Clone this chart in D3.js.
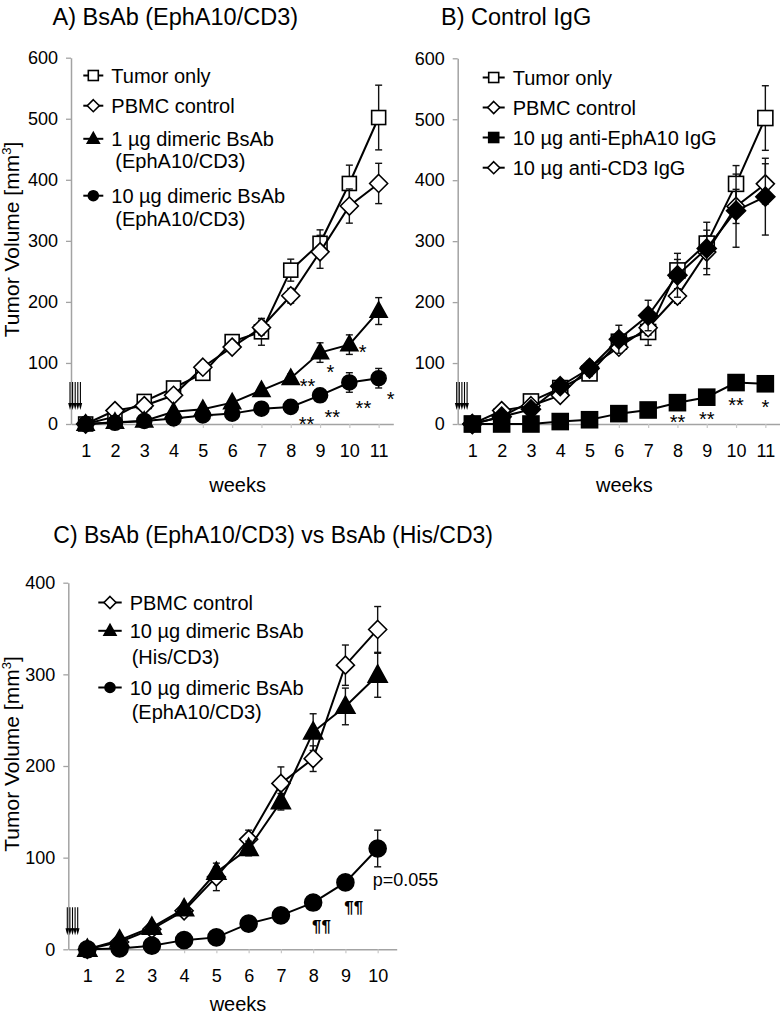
<!DOCTYPE html>
<html><head><meta charset="utf-8">
<script src="https://cdn.jsdelivr.net/npm/d3@7"></script>
<style>
body{margin:0;background:#fff}
svg{display:block}
text{font-family:"Liberation Sans",Arial,Helvetica,sans-serif;fill:#000}
</style>
</head><body>
<svg id="chart" width="780" height="1017"></svg>
<script>
// ---------- data ----------
const weeksAB = [1,2,3,4,5,6,7,8,9,10,11];
const weeksC  = [1,2,3,4,5,6,7,8,9,10];

const tumorOnly     = [0, 12, 37, 59, 83, 135, 151, 252, 296, 394, 502];
const tumorOnlyErr  = [0, 3, 5, 6, 8, 10, 22, 18, 22, 30, 53];
const pbmcAB        = [0, 22, 30, 47, 93, 126, 158, 210, 282, 357, 394];
const pbmcABErr     = [0, 3, 4, 5, 8, 8, 12, 12, 27, 28, 33];
const bsab1Eph      = [0, 3, 5, 20, 24, 35, 55, 75, 117, 130, 185];
const bsab1EphErr   = [0, 1, 2, 3, 4, 5, 6, 7, 16, 16, 22];
const bsab10Eph     = [0, 2, 5, 9, 14, 17, 25, 28, 47, 68, 75];
const bsab10EphErr  = [0, 1, 1, 2, 2, 3, 4, 5, 7, 16, 16];
const antiEphIgG    = [0, 0, 0, 4, 7, 17, 23, 35, 44, 68, 66];
const antiEphIgGErr = [0, 0, 0, 1, 2, 2, 3, 4, 4, 7, 4];
const antiCD3IgG    = [0, 12, 24, 62, 91, 139, 178, 244, 288, 350, 373];
const antiCD3IgGErr = [0, 2, 3, 6, 12, 23, 25, 36, 43, 60, 63];

const pbmcC         = [0, 8, 22, 42, 79, 120, 181, 208, 310, 349];
const pbmcCErr      = [0, 2, 3, 4, 15, 10, 18, 14, 22, 25];
const bsabHisC      = [0, 10, 24, 44, 84, 110, 161, 237, 265, 299];
const bsabHisCErr   = [0, 2, 3, 4, 6, 8, 9, 20, 20, 24];
const bsabEphC      = [0, 1, 4, 10, 13, 28, 37, 51, 73, 110];
const bsabEphCErr   = [0, 1, 1, 2, 2, 3, 4, 4, 6, 20];

const yTicksAB = [0, 100, 200, 300, 400, 500, 600];
const yTicksC  = [0, 100, 200, 300, 400];

const titles = ["A) BsAb (EphA10/CD3)", "B) Control IgG", "C) BsAb (EphA10/CD3) vs BsAb (His/CD3)"];
const yTitle = "Tumor Volume [mm";
const xTitle = "weeks";

const legendA = [["Tumor only"], ["PBMC control"], ["1 µg dimeric BsAb", "(EphA10/CD3)"], ["10 µg dimeric BsAb", "(EphA10/CD3)"]];
const legendB = [["Tumor only"], ["PBMC control"], ["10 µg anti-EphA10 IgG"], ["10 µg anti-CD3 IgG"]];
const legendC = [["PBMC control"], ["10 µg dimeric BsAb", "(His/CD3)"], ["10 µg dimeric BsAb", "(EphA10/CD3)"]];

// annotations: [week position, value, text]
const annotA = [[8.57, 69, "**"], [9.35, 92, "*"], [10.45, 124, "*"],
                [8.54, 6, "**"], [9.42, 18, "**"], [10.48, 33, "**"], [11.41, 47, "*"]];
const annotB = [[8.0, 10, "**"], [9.0, 15, "**"], [10.0, 37, "**"], [11.0, 34, "*"]];
const annotC = [[8.26, 25, "\u00B6\u00B6"], [9.26, 46, "\u00B6\u00B6"]];
const pNote  = [9.85, 76, "p=0.055"];

// ---------- drawing ----------
const svg = d3.select("#chart");
const AXIS = "#a3a3a3";

function marker(g, type, cx, cy, s, filled) {
  const f = filled ? "#000" : "#fff";
  let el;
  if (type === "square") {
    el = g.append("rect").attr("x", cx - s/2).attr("y", cy - s/2).attr("width", s).attr("height", s);
  } else if (type === "diamond") {
    const h = s/2;
    el = g.append("path").attr("d", `M${cx},${cy-h}L${cx+h},${cy}L${cx},${cy+h}L${cx-h},${cy}Z`);
  } else if (type === "triangle") {
    const h = s*0.9;
    el = g.append("path").attr("d", `M${cx},${cy-h*0.6}L${cx+s/2},${cy+h*0.4}L${cx-s/2},${cy+h*0.4}Z`);
  } else {
    el = g.append("circle").attr("cx", cx).attr("cy", cy).attr("r", s/2);
  }
  el.attr("stroke", "#000").attr("stroke-width", 1.6).attr("fill", f);
}

function panel(cfg) {
  const g = svg.append("g");
  const x = d3.scalePoint().domain(cfg.weeks).range([cfg.x0, cfg.x1]).padding(cfg.pad);
  const y = d3.scaleLinear().domain([0, cfg.yMax]).range([cfg.yZero, cfg.yTop]);
  const step = x.step();
  const xf = w => x(Math.floor(w)) + (w - Math.floor(w)) * step;

  // y axis
  const ya = g.append("g").attr("transform", `translate(${cfg.x0},0)`)
    .call(d3.axisLeft(y).tickValues(cfg.yTicks).tickSize(5).tickSizeOuter(0).tickPadding(8));
  ya.select(".domain").attr("stroke", AXIS).attr("stroke-width", 1.5);
  ya.selectAll(".tick line").attr("stroke", AXIS).attr("stroke-width", 1.3);
  ya.selectAll(".tick text").attr("font-size", 18).attr("font-family", "Liberation Sans, Arial, sans-serif").attr("fill", "#000");

  // x axis
  const xa = g.append("g").attr("transform", `translate(0,${cfg.yZero})`)
    .call(d3.axisBottom(x).tickSize(4).tickSizeOuter(0));
  xa.select(".domain").attr("stroke", AXIS).attr("stroke-width", 1.5);
  xa.selectAll(".tick line").attr("stroke", "#c8c8c8").attr("stroke-width", 1.2);
  xa.selectAll(".tick text").attr("font-size", 18).attr("font-family", "Liberation Sans, Arial, sans-serif")
    .attr("fill", "#000").attr("y", cfg.tickBase).attr("dy", null);

  // arrows (treatment)
  for (let i = 0; i < 5; i++) {
    const ax = cfg.x0 - 1 + i * 2.6;
    g.append("line").attr("x1", ax).attr("x2", ax).attr("y1", cfg.yZero - 42).attr("y2", cfg.yZero - 19)
      .attr("stroke", "#000").attr("stroke-width", 1.1);
    g.append("path").attr("d", `M${ax-1.8},${cfg.yZero-21}L${ax+1.8},${cfg.yZero-21}L${ax},${cfg.yZero-14}Z`).attr("fill", "#000");
  }

  // series
  const line = d3.line().x((d,i) => x(cfg.weeks[i])).y(d => y(d));
  cfg.series.forEach(s => {
    const sg = g.append("g");
    s.values.forEach((v, i) => {
      const e = s.err[i];
      if (e <= 0) return;
      const cx = x(cfg.weeks[i]);
      sg.append("line").attr("x1", cx).attr("x2", cx).attr("y1", y(v - e)).attr("y2", y(v + e))
        .attr("stroke", "#111").attr("stroke-width", 1.4);
      [v - e, v + e].forEach(t => sg.append("line").attr("x1", cx - 3.5).attr("x2", cx + 3.5)
        .attr("y1", y(t)).attr("y2", y(t)).attr("stroke", "#111").attr("stroke-width", 1.4));
    });
    sg.append("path").datum(s.values).attr("d", line).attr("fill", "none").attr("stroke", "#000").attr("stroke-width", 2);
    s.values.forEach((v, i) => marker(sg, s.marker, x(cfg.weeks[i]), y(v), s.size, s.filled));
  });

  // annotations
  cfg.annot.forEach(a => {
    g.append("text").attr("x", xf(a[0])).attr("y", y(a[1]) + cfg.annotDy).attr("text-anchor", "middle")
      .attr("font-size", cfg.annotSize).attr("font-weight", cfg.annotWeight)
      .style("font-family", "'Liberation Sans', Arial, sans-serif").style("fill", "#000")
      .text(a[2]);
  });

  // legend
  cfg.legend.forEach((item, k) => {
    const s = cfg.series[cfg.legendOrder[k]];
    const cy = cfg.legendRows[k][0];
    g.append("line").attr("x1", cfg.legX).attr("x2", cfg.legX + cfg.legLen).attr("y1", cy).attr("y2", cy)
      .attr("stroke", "#000").attr("stroke-width", 2);
    marker(g, s.marker, cfg.legX + cfg.legLen/2, cy, s.legSize, cfg.legendFilled[k]);
    item.forEach((t, j) => {
      g.append("text").attr("x", cfg.legX + cfg.legLen + 8 + (j ? cfg.indent : 0))
        .attr("y", cfg.legendRows[k][j] + 7).attr("font-size", 20).text(t);
    });
  });

  // titles
  g.append("text").attr("x", cfg.titleX).attr("y", cfg.titleY).attr("font-size", cfg.titleSize).text(cfg.title);
  g.append("text").attr("x", (cfg.x0 + cfg.x1)/2 + 5.5).attr("y", cfg.yZero + cfg.weeksDy)
    .attr("text-anchor", "middle").attr("font-size", 20).text(xTitle);
  if (cfg.yTitleY) {
    const t = g.append("text").attr("transform", `translate(19,${cfg.yTitleY}) rotate(-90)`)
      .attr("text-anchor", "middle").attr("font-size", 21);
    t.append("tspan").text(yTitle);
    t.append("tspan").attr("font-size", 13).attr("dy", -8).text("3");
    t.append("tspan").attr("dy", 8).text("]");
  }
  return {x, y, xf};
}

panel({
  weeks: weeksAB, x0: 71, x1: 393.3, pad: 0.5, yZero: 424, yTop: 57.7, yMax: 600, yTicks: yTicksAB,
  tickBase: 32.7, weeksDy: 67.7,
  series: [
    {values: tumorOnly, err: tumorOnlyErr, marker: "square", filled: false, size: 14, legSize: 10},
    {values: pbmcAB, err: pbmcABErr, marker: "diamond", filled: false, size: 18, legSize: 12},
    {values: bsab1Eph, err: bsab1EphErr, marker: "triangle", filled: true, size: 17, legSize: 12},
    {values: bsab10Eph, err: bsab10EphErr, marker: "circle", filled: true, size: 15, legSize: 10}
  ],
  annot: annotA, annotSize: 20, annotDy: 11, annotWeight: "normal",
  legend: legendA, legendOrder: [0,1,2,3], legendFilled: [false,false,true,true],
  legendRows: [[75.5],[105.7],[138.8,160.7],[195.7,219]], legX: 83.3, legLen: 20, indent: 4,
  title: titles[0], titleX: 52.5, titleY: 25, titleSize: 23.5, yTitleY: 239.5
});

panel({
  weeks: weeksAB, x0: 457.7, x1: 780, pad: 0.5, yZero: 424, yTop: 58.3, yMax: 600, yTicks: yTicksAB,
  tickBase: 32.7, weeksDy: 67.7,
  series: [
    {values: tumorOnly, err: tumorOnlyErr, marker: "square", filled: false, size: 15, legSize: 10},
    {values: pbmcAB, err: pbmcABErr, marker: "diamond", filled: false, size: 18, legSize: 12},
    {values: antiEphIgG, err: antiEphIgGErr, marker: "square", filled: true, size: 16, legSize: 10},
    {values: antiCD3IgG, err: antiCD3IgGErr, marker: "diamond", filled: true, size: 19, legSize: 12}
  ],
  annot: annotB, annotSize: 20, annotDy: 11, annotWeight: "normal",
  legend: legendB, legendOrder: [0,1,2,3], legendFilled: [false,false,true,false],
  legendRows: [[77.5],[107.5],[137.5],[167.7]], legX: 482.7, legLen: 22, indent: 0,
  title: titles[1], titleX: 441, titleY: 25, titleSize: 23.5, yTitleY: null
});

const pc = panel({
  weeks: weeksC, x0: 68.3, x1: 396.7, pad: 0.59, yZero: 949.3, yTop: 582.7, yMax: 400, yTicks: yTicksC,
  tickBase: 32.4, weeksDy: 62,
  series: [
    {values: pbmcC, err: pbmcCErr, marker: "diamond", filled: false, size: 18, legSize: 12},
    {values: bsabHisC, err: bsabHisCErr, marker: "triangle", filled: true, size: 19, legSize: 12},
    {values: bsabEphC, err: bsabEphCErr, marker: "circle", filled: true, size: 17, legSize: 10}
  ],
  annot: annotC, annotSize: 17, annotDy: 6, annotWeight: "bold",
  legend: legendC, legendOrder: [0,1,2], legendFilled: [false,true,true],
  legendRows: [[602.5],[630.8,657.3],[687.5,712.3]], legX: 98.3, legLen: 23.4, indent: 2,
  title: titles[2], titleX: 53.3, titleY: 543, titleSize: 23, yTitleY: 754
});

svg.append("text").attr("x", pc.xf(pNote[0])).attr("y", pc.y(pNote[1]) + 6.5)
  .attr("font-size", 18).text(pNote[2]);
</script>
</body></html>
